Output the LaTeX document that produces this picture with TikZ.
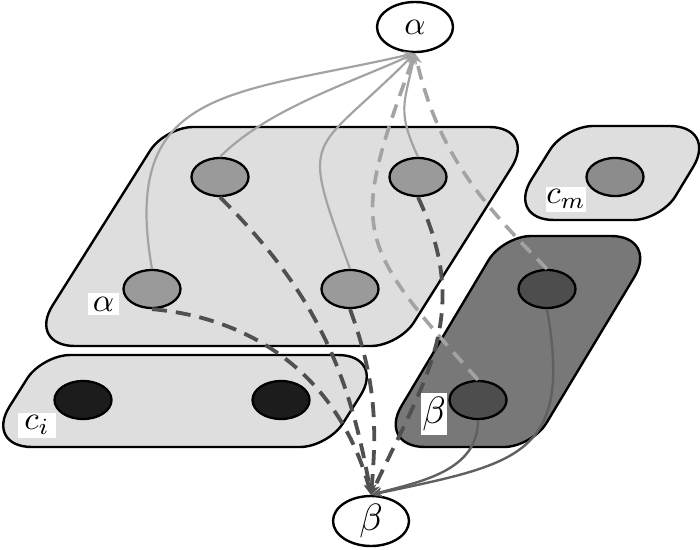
\documentclass[tikz,border=0pt]{standalone}
\usepackage{graphicx}
\usetikzlibrary{shapes.geometric,arrows.meta,calc}

\definecolor{boxlight}{HTML}{DEDEDE}
\definecolor{boxdark}{HTML}{787878}
\definecolor{dotmid}{HTML}{9A9A9A}
\definecolor{dotcm}{HTML}{8C8C8C}
\definecolor{dotdark}{HTML}{4D4D4D}
\definecolor{dotblack}{HTML}{1C1C1C}
\definecolor{lgline}{HTML}{A3A3A3}
\definecolor{dkdash}{HTML}{505050}
\definecolor{dksolid}{HTML}{606060}

\newcommand\lblmath[2]{\scalebox{#1}{$#2$}}

% rounded slanted box: #1 style, #2 TL, #3 TR, #4 BR, #5 BL, #6 obtuse cut, #7 acute cut
\newcommand\rbox[7]{%
  \coordinate (q1) at #2; \coordinate (q2) at #3; \coordinate (q3) at #4; \coordinate (q4) at #5;
  \draw[#1]
    ($(q1)!#6!(q2)$) -- ($(q2)!#7!(q1)$)
    .. controls ($(q2)!0.45*#7!(q1)$) and ($(q2)!0.45*#7!(q3)$) .. ($(q2)!#7!(q3)$)
    -- ($(q3)!#6!(q2)$)
    .. controls ($(q3)!0.45*#6!(q2)$) and ($(q3)!0.45*#6!(q4)$) .. ($(q3)!#6!(q4)$)
    -- ($(q4)!#7!(q3)$)
    .. controls ($(q4)!0.45*#7!(q3)$) and ($(q4)!0.45*#7!(q1)$) .. ($(q4)!#7!(q1)$)
    -- ($(q1)!#6!(q4)$)
    .. controls ($(q1)!0.45*#6!(q4)$) and ($(q1)!0.45*#6!(q2)$) .. ($(q1)!#6!(q2)$)
    -- cycle;
}

\begin{document}
\begin{tikzpicture}[x=1pt,y=-1pt,
  bord/.style={draw=black,line width=2.4pt},
  dotnode/.style={ellipse,draw=black,line width=2.3pt,minimum width=57pt,minimum height=38pt,inner sep=0pt},
  lab/.style={fill=white,inner sep=0pt},
  endell/.style={ellipse,draw=black,line width=2.4pt,fill=white,minimum width=76pt,minimum height=50pt,inner sep=0pt},
  tipA/.style={-{Stealth[length=11pt,width=9pt]}},
  lgsolid/.style={draw=lgline,line width=2.2pt,tipA},
  lgdash/.style={draw=lgline,line width=3.6pt,dash pattern=on 14pt off 9pt,tipA},
  dkdashed/.style={draw=dkdash,line width=3.8pt,dash pattern=on 15pt off 9pt,tipA},
  dksol/.style={draw=dksolid,line width=2.4pt,tipA}
]
\useasboundingbox (0,0) rectangle (700,549);

% boxes
\rbox{bord,fill=boxlight}{(165,127)}{(537,127)}{(399,346)}{(27,346)}{28pt}{48pt}
\rbox{bord,fill=boxlight}{(42,355)}{(386,355)}{(328,447)}{(-16,447)}{28pt}{48pt}
\rbox{bord,fill=boxlight}{(565,126)}{(718,126)}{(661,220)}{(506,220)}{28pt}{48pt}
\rbox{bord,fill=boxdark}{(503,236)}{(659,236)}{(532,447)}{(377,447)}{28pt}{48pt}

% end nodes
\node[endell] (alpha) at (415,27) {\lblmath{3.3}{\alpha}};
\node[endell] (beta) at (371,521) {\lblmath{3.8}{\beta}};

% dots
\node[dotnode,fill=dotmid] (a1) at (220,177) {};
\node[dotnode,fill=dotmid] (a2) at (418,177) {};
\node[dotnode,fill=dotmid] (a3) at (152,289) {};
\node[dotnode,fill=dotmid] (a4) at (350,289) {};
\node[dotnode,fill=dotblack] (c1) at (83,400) {};
\node[dotnode,fill=dotblack] (c2) at (281,400) {};
\node[dotnode,fill=dotcm] (m1) at (615,177) {};
\node[dotnode,fill=dotdark] (b1) at (547,289) {};
\node[dotnode,fill=dotdark] (b2) at (478,400) {};

% connectors to alpha
\draw[lgsolid] (a3.north) to[out=100,in=193,looseness=1.4] (alpha.south);
\draw[lgsolid] (a1.north) to[out=45,in=205,looseness=0.8] (alpha.south);
\draw[lgsolid] (a4.north) to[out=110,in=225,looseness=1.7] (alpha.south);
\draw[lgsolid] (a2.north) to[out=115,in=258,looseness=1.25] (alpha.south);
\draw[lgdash] (b2.north) to[out=132,in=250,looseness=1.45] (alpha.south);
\draw[lgdash] (b1.north) to[out=135,in=283] (alpha.south);

% connectors to beta
\draw[dkdashed] (a3.south) to[out=-5,in=105] (beta.north);
\draw[dkdashed] (a1.south) to[out=-45,in=100] (beta.north);
\draw[dkdashed] (a4.south) to[out=-70,in=85] (beta.north);
\draw[dkdashed] (a2.south) to[out=-65,in=65,looseness=1.1] (beta.north);
\draw[dksol] (b1.south) to[out=-80,in=12,looseness=1.5] (beta.north);
\draw[dksol] (b2.south) to[out=-90,in=15] (beta.north);

% labels
\node[lab,minimum width=31pt,minimum height=22pt] (la) at (103.5,304) {\lblmath{3.3}{\alpha}};
\node[lab,minimum width=26pt,minimum height=42pt] (lb) at (434,414) {\lblmath{3.8}{\beta}};
\node[lab,minimum width=38pt,minimum height=25pt] (lci) at (37,425) {\lblmath{3.3}{c_i}};
\node[lab,minimum width=38pt,minimum height=25pt] (lcm) at (566,199) {\lblmath{3.3}{c_m}};
\end{tikzpicture}
\end{document}
